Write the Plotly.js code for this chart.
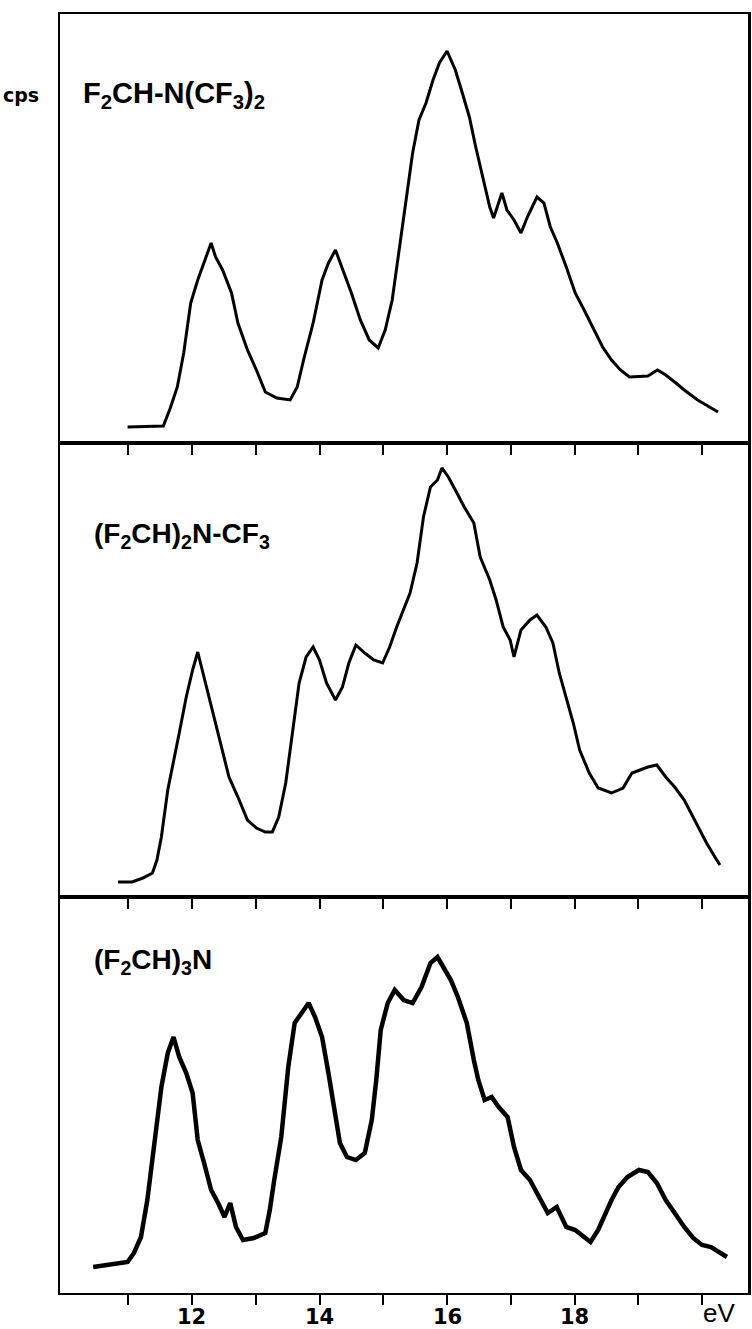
<!DOCTYPE html>
<html>
<head>
<meta charset="utf-8">
<script src="https://cdn.plot.ly/plotly-3.0.1.min.js"></script>
<style>html,body{margin:0;padding:0;background:#fff;}#chart{width:752px;height:1329px;}</style>
</head>
<body>
<div id="chart"></div>
<script>
// Photoelectron spectra: ionization energy (eV) vs counts (cps, arbitrary units)
const topEnergy = [10.99,11.55,11.66,11.77,11.87,11.98,12.09,12.19,12.30,12.37,12.48,12.62,12.72,12.87,13.01,13.15,13.33,13.54,13.65,13.75,13.90,14.04,14.14,14.25,14.35,14.50,14.64,14.78,14.92,15.03,15.14,15.24,15.35,15.46,15.56,15.67,15.78,15.88,16.00,16.13,16.24,16.35,16.45,16.56,16.67,16.73,16.86,16.94,17.05,17.16,17.26,17.41,17.52,17.62,17.73,17.87,18.01,18.15,18.30,18.44,18.58,18.72,18.86,19.15,19.30,19.43,19.57,19.72,19.93,20.11,20.25];
const topCounts = [16,17,35,56,90,140,163,180,200,186,173,150,120,93,73,51,45,43,56,83,120,163,180,193,176,150,123,103,95,113,143,190,243,290,323,340,363,380,392,373,350,326,296,266,236,225,250,233,223,210,226,246,240,216,200,176,150,133,113,96,83,73,66,67,73,68,61,53,43,36,31];

const midEnergy = [10.84,11.06,11.23,11.38,11.45,11.52,11.62,11.73,11.80,11.91,12.01,12.09,12.16,12.26,12.37,12.48,12.58,12.72,12.87,13.01,13.15,13.26,13.36,13.47,13.58,13.68,13.79,13.90,14.00,14.11,14.25,14.36,14.46,14.57,14.71,14.85,14.99,15.10,15.21,15.32,15.42,15.53,15.63,15.74,15.85,15.92,16.02,16.13,16.27,16.42,16.52,16.67,16.77,16.88,16.99,17.05,17.16,17.30,17.41,17.55,17.66,17.76,17.87,17.98,18.08,18.23,18.37,18.58,18.76,18.90,19.15,19.29,19.43,19.57,19.72,19.86,19.96,20.07,20.21,20.28];
const midCounts = [15,15,19,24,37,60,107,140,164,200,227,245,227,204,174,147,120,100,77,69,65,65,80,114,167,214,240,250,237,214,197,210,234,252,244,237,234,250,270,287,304,334,380,410,417,429,420,407,390,374,340,317,297,270,257,240,267,277,282,270,254,224,200,174,147,124,109,104,109,124,130,132,120,110,97,80,67,54,39,32];

const botEnergy = [10.45,10.70,10.99,11.09,11.20,11.30,11.41,11.52,11.62,11.71,11.80,11.91,12.01,12.09,12.19,12.30,12.41,12.51,12.60,12.69,12.80,12.97,13.15,13.22,13.29,13.40,13.51,13.61,13.72,13.83,13.93,14.04,14.14,14.25,14.32,14.43,14.57,14.71,14.82,14.89,14.96,15.07,15.18,15.32,15.46,15.60,15.74,15.85,15.95,16.06,16.17,16.31,16.42,16.49,16.59,16.70,16.81,16.95,17.05,17.16,17.30,17.44,17.58,17.72,17.87,18.01,18.15,18.25,18.37,18.48,18.58,18.69,18.83,19.01,19.15,19.29,19.43,19.57,19.72,19.86,20.00,20.14,20.28,20.39];
const botCounts = [26,28,31,40,56,93,153,206,240,256,236,220,200,153,130,103,90,76,90,66,53,55,60,83,113,156,226,270,280,290,276,256,220,180,150,136,133,140,173,213,263,290,303,293,290,306,330,336,326,313,296,270,233,213,193,196,186,176,146,123,113,96,80,86,66,63,56,51,63,80,93,106,116,123,121,110,93,80,66,55,48,46,41,36];

const tickValues = [11,12,13,14,15,16,17,18,19,20];
const labelledTicks = [12,14,16,18];
const unitLabel = 'eV';

const xRange = [9.93, 20.72];
const lineCol = '#000';

function xaxisCfg(anchor) {
  return {
    range: xRange, anchor: anchor, showgrid: false, zeroline: false,
    showline: true, linewidth: 2, linecolor: lineCol, mirror: true,
    ticks: 'outside', ticklen: 10, tickwidth: 2, tickcolor: lineCol,
    tickmode: 'array', tickvals: tickValues, showticklabels: false
  };
}
function yaxisCfg(domain, range, anchor) {
  return {
    domain: domain, range: range, anchor: anchor, showgrid: false, zeroline: false,
    showline: true, linewidth: 2.5, linecolor: lineCol, mirror: true,
    ticks: '', showticklabels: false
  };
}

const traces = [
  {x: topEnergy, y: topCounts, xaxis: 'x3', yaxis: 'y3', mode: 'lines', line: {color: '#000', width: 3}, hoverinfo: 'none'},
  {x: midEnergy, y: midCounts, xaxis: 'x2', yaxis: 'y2', mode: 'lines', line: {color: '#000', width: 3}, hoverinfo: 'none'},
  {x: botEnergy, y: botCounts, xaxis: 'x', yaxis: 'y', mode: 'lines', line: {color: '#000', width: 4.5}, hoverinfo: 'none'}
];

const boldLabel = (size) => ({family: 'Liberation Sans', size: size, color: '#000', weight: 'bold'});
const annotations = [
  {text: 'cps', xref: 'paper', yref: 'paper', x: -0.086, y: 0.937, xanchor: 'left', yanchor: 'middle', showarrow: false,
   font: {family: 'DejaVu Sans', size: 19, color: '#000', weight: 'bold'}},
  {text: 'F<sub>2</sub>CH-N(CF<sub>3</sub>)<sub>2</sub>', xref: 'paper', yref: 'paper', x: 0.031, y: 0.937, xanchor: 'left', yanchor: 'middle', showarrow: false, font: boldLabel(29)},
  {text: '(F<sub>2</sub>CH)<sub>2</sub>N-CF<sub>3</sub>', xref: 'paper', yref: 'paper', x: 0.046, y: 0.592, xanchor: 'left', yanchor: 'middle', showarrow: false, font: boldLabel(28)},
  {text: '(F<sub>2</sub>CH)<sub>3</sub>N', xref: 'paper', yref: 'paper', x: 0.046, y: 0.259, xanchor: 'left', yanchor: 'middle', showarrow: false, font: boldLabel(28)},
  {text: unitLabel, xref: 'paper', yref: 'paper', x: 0.958, y: -0.0155, xanchor: 'center', yanchor: 'middle', showarrow: false,
   font: {family: 'Liberation Sans', size: 26, color: '#000'}}
];
labelledTicks.forEach(v => annotations.push({
  text: String(v), xref: 'x', yref: 'paper', x: v, y: -0.0187, xanchor: 'center', yanchor: 'middle', showarrow: false,
  font: {family: 'DejaVu Sans', size: 21, color: '#000', weight: 'bold'}
}));

const layout = {
  width: 752, height: 1329,
  margin: {l: 60, r: 4, t: 14, b: 36},
  paper_bgcolor: '#fff', plot_bgcolor: '#fff',
  showlegend: false,
  xaxis: xaxisCfg('y'),
  xaxis2: xaxisCfg('y2'),
  xaxis3: xaxisCfg('y3'),
  yaxis: yaxisCfg([0, 0.3096], [0, 396], 'x'),
  yaxis2: yaxisCfg([0.3096, 0.6646], [0, 454], 'x2'),
  yaxis3: yaxisCfg([0.6646, 1], [0, 429], 'x3'),
  annotations: annotations
};

Plotly.newPlot('chart', traces, layout, {staticPlot: true, displayModeBar: false});
</script>
</body>
</html>
